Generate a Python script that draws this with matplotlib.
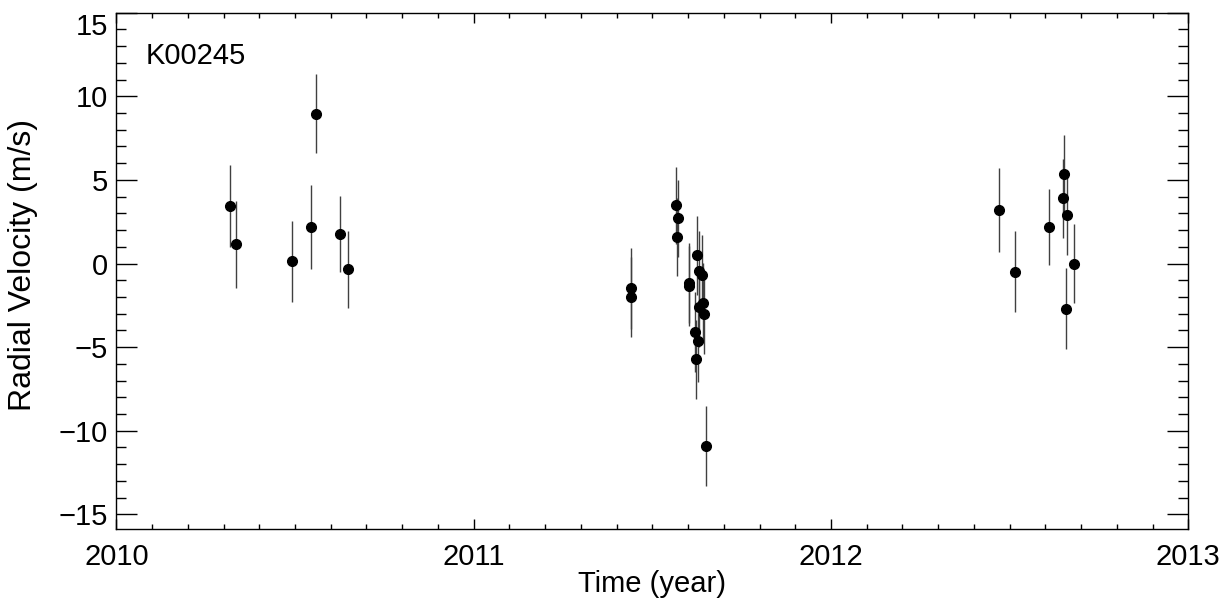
import matplotlib
matplotlib.use("Agg")
import matplotlib.pyplot as plt
from matplotlib.ticker import MultipleLocator, FuncFormatter

plt.rcParams['font.family'] = ['Liberation Sans', 'DejaVu Sans']

# Data
time_year = [2010.318, 2010.334, 2010.492, 2010.545, 2010.558, 2010.627, 2010.649,
             2011.441, 2011.441, 2011.567, 2011.571, 2011.570, 2011.625, 2011.631,
             2011.640, 2011.604, 2011.603, 2011.642, 2011.630, 2011.645, 2011.619,
             2011.627, 2011.622, 2011.649,
             2012.469, 2012.516, 2012.609, 2012.652, 2012.648, 2012.660, 2012.680,
             2012.657]
rv = [3.45, 1.14, 0.14, 2.17, 8.97, 1.77, -0.34,
      -1.49, -1.99, 3.47, 2.71, 1.61, 0.50, -0.44,
      -0.70, -1.18, -1.33, -2.35, -2.61, -3.03, -4.12,
      -4.66, -5.72, -10.92,
      3.19, -0.48, 2.17, 5.34, 3.89, 2.89, 0.00,
      -2.71]
rv_err = [2.45, 2.6, 2.43, 2.5, 2.37, 2.25, 2.3,
          2.43, 2.4, 2.3, 2.3, 2.33, 2.37, 2.4,
          2.4, 2.4, 2.4, 2.4, 2.4, 2.4, 2.4,
          2.4, 2.37, 2.4,
          2.5, 2.45, 2.27, 2.33, 2.36, 2.4, 2.37,
          2.43]

x_ticks = [2010, 2011, 2012, 2013]
y_ticks = [-15, -10, -5, 0, 5, 10, 15]
star_label = "K00245"

fig = plt.figure(figsize=(12.30, 6.07), dpi=100)
ax = fig.add_axes([0.0946, 0.128, 0.8715, 0.851])

ax.errorbar(time_year, rv, yerr=rv_err, fmt='none', ecolor='0.25', elinewidth=1.0, capsize=0)
ax.plot(time_year, rv, 'o', color='black', markersize=7)

ax.set_xlim(2010, 2013)
ax.set_ylim(-15.9, 15)

ax.set_xticks(x_ticks)
ax.set_yticks(y_ticks)
ax.xaxis.set_minor_locator(MultipleLocator(0.1))
ax.yaxis.set_minor_locator(MultipleLocator(1))

ax.tick_params(axis='both', which='both', direction='in', top=True, right=True,
               width=1.0, labelsize=21)
ax.tick_params(axis='x', which='major', length=7.5, pad=10)
ax.tick_params(axis='x', which='minor', length=3.7)
ax.tick_params(axis='y', which='major', length=15, pad=6)
ax.tick_params(axis='y', which='minor', length=7.5)

ax.xaxis.set_major_formatter(FuncFormatter(lambda v, p: f"{int(round(v))}"))
ax.yaxis.set_major_formatter(FuncFormatter(
    lambda v, p: f"{int(round(v))}".replace('-', '\u2212')))

# top label sits just inside the frame in the reference
ax.get_yticklabels()[-1].set_verticalalignment('top')

for sp in ax.spines.values():
    sp.set_linewidth(1.0)

ax.set_xlabel("Time (year)", fontsize=21)
ax.set_ylabel("Radial Velocity (m/s)", fontsize=23)
ax.xaxis.set_label_coords(0.5, -0.078)
ax.yaxis.set_label_coords(-0.073, 0.511)

ax.text(0.0275, 0.9014, star_label, transform=ax.transAxes, fontsize=21,
        ha='left', va='baseline')

fig.savefig("out.png", dpi=100)
